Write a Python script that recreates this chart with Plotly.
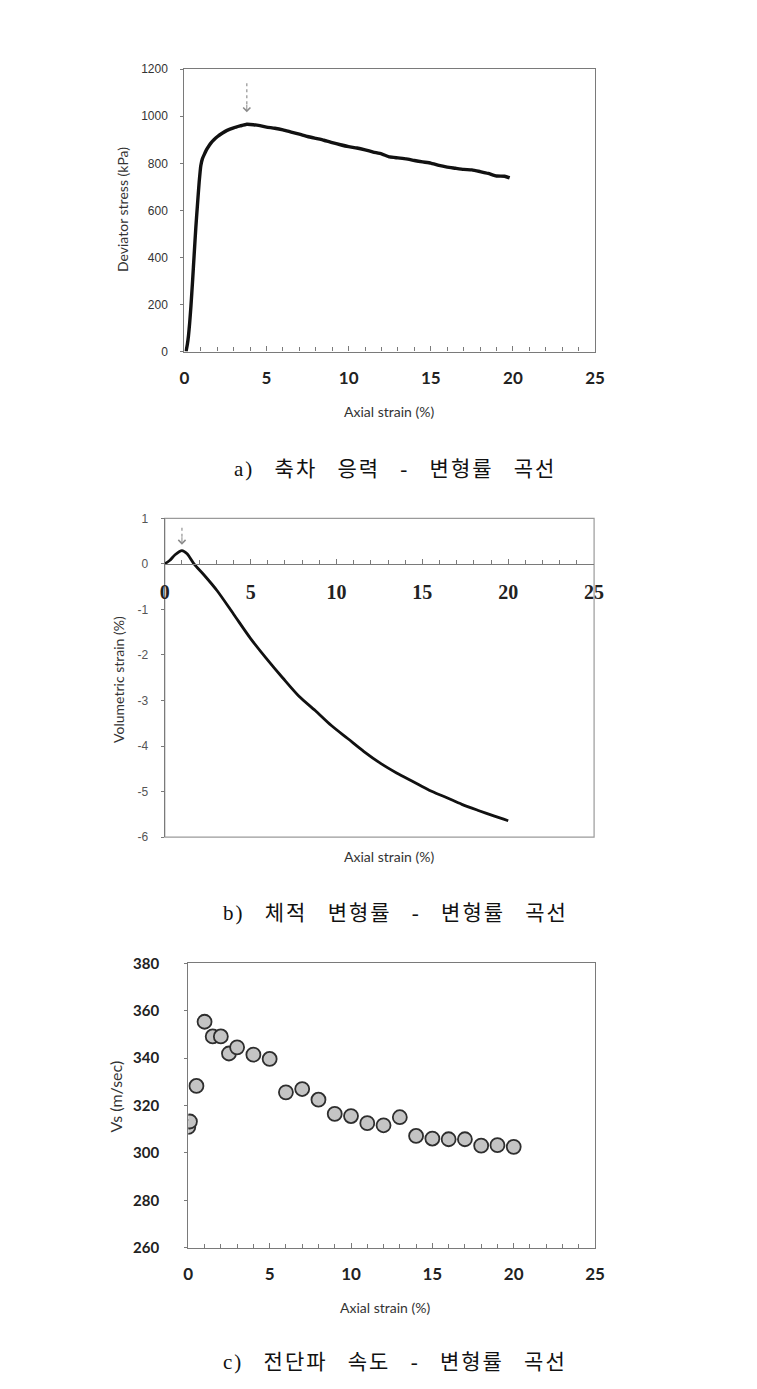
import plotly.graph_objects as go
import numpy as np

W, H = 757, 1389

# ---------------- data ----------------
# a) deviator stress vs axial strain
strain_a = [0.1, 0.18, 0.25, 0.32, 0.4, 0.5, 0.6, 0.7, 0.8, 0.9, 1.0, 1.1, 1.2, 1.35, 1.5, 1.65, 1.8, 2.0,
            2.3, 2.6, 3.0, 3.4, 3.8, 4.2, 4.6, 5.0, 5.5, 6.0, 6.5, 7.0, 7.5, 8.0, 8.5, 9.0, 9.5, 10.0,
            10.5, 11.0, 11.5, 12.0, 12.5, 13.0, 13.5, 14.0, 14.5, 15.0, 15.5, 16.0, 16.5, 17.0, 17.5,
            18.0, 18.5, 19.0, 19.5, 19.8]
stress_a = [0, 30, 67, 120, 193, 300, 417, 530, 627, 720, 790, 820, 836, 858, 875, 889, 900, 913,
            928, 940, 951, 959, 966, 964, 960, 954, 949, 942, 933, 924, 914, 906, 898, 888, 879, 871,
            865, 857, 848, 840, 827, 823, 819, 812, 806, 801, 791, 784, 779, 774, 772,
            765, 757, 746, 745, 738]

# b) volumetric strain vs axial strain
strain_b = [0.0, 0.3, 0.6, 1.0, 1.3, 1.7, 2.3, 3.05, 4.0, 5.0, 5.9, 6.86, 7.8, 8.76, 9.7, 10.67, 11.6,
            12.57, 13.5, 14.5, 15.4, 16.4, 17.3, 18.3, 19.2, 20.0]
vol_b = [0.0, 0.08, 0.2, 0.29, 0.22, 0.0, -0.25, -0.59, -1.10, -1.64, -2.07, -2.50, -2.90, -3.22, -3.55,
         -3.84, -4.12, -4.38, -4.59, -4.79, -4.97, -5.13, -5.28, -5.42, -5.54, -5.64]

# c) shear wave velocity vs axial strain
strain_c = [0, 0.1, 0.5, 1.0, 1.5, 2.0, 2.5, 3.0, 4, 5, 6, 7, 8, 9, 10, 11, 12, 13, 14, 15, 16, 17, 18, 19, 20]
vs_c = [311, 313.3, 328.3, 355.4, 349.2, 349.2, 342, 344.6, 341.5, 339.7, 325.6, 327, 322.5, 316.5, 315.6,
        312.6, 311.7, 315.1, 307.2, 306.1, 305.8, 305.8, 303.1, 303.3, 302.6]

x_ticks = [0, 5, 10, 15, 20, 25]
y_ticks_a = [0, 200, 400, 600, 800, 1000, 1200]
y_ticks_b = [1, 0, -1, -2, -3, -4, -5, -6]
y_ticklabels_b = ["1", "0", "-1", "-2", "-3", "-4", "-5", "-6"]
y_ticks_c = [260, 280, 300, 320, 340, 360, 380]

captions = ["a) 축차 응력 - 변형률 곡선", "b) 체적 변형률 - 변형률 곡선", "c) 전단파 속도 - 변형률 곡선"]
x_title = "Axial strain (%)"
y_titles = ["Deviator stress (kPa)", "Volumetric strain (%)", "Vs (m/sec)"]

# ---------------- layout helpers ----------------
def px_x(p):
    return p / W

def px_y(p):
    return 1 - p / H

dom_a = dict(x=[px_x(183), px_x(602)], y=[px_y(346), px_y(60)])
dom_b = dict(x=[px_x(163), px_x(601)], y=[px_y(838), px_y(515)])
dom_c = dict(x=[px_x(187), px_x(602)], y=[px_y(1254), px_y(966)])

range_b = [-6, 1]
zero_pos_b = dom_b["y"][0] + (dom_b["y"][1] - dom_b["y"][0]) * (0 - range_b[0]) / (range_b[1] - range_b[0])

FRAME = "#9a9a9a"
AXIS = "#7a7a7a"

fig = go.Figure()

fig.add_trace(go.Scatter(x=strain_a, y=stress_a, mode="lines", line=dict(color="#111111", width=3.4, shape="spline", smoothing=0.4),
                         xaxis="x", yaxis="y", showlegend=False))
fig.add_trace(go.Scatter(x=strain_b, y=vol_b, mode="lines", line=dict(color="#111111", width=2.8, shape="spline", smoothing=0.8),
                         xaxis="x2", yaxis="y2", showlegend=False))
fig.add_trace(go.Scatter(x=strain_c, y=vs_c, mode="markers",
                         marker=dict(size=14, color="#c4c4c4", line=dict(color="#2e2e2e", width=1.8)),
                         xaxis="x3", yaxis="y3", showlegend=False))

xcommon = dict(range=[0, 25], tickvals=x_ticks, ticks="inside", ticklen=5, tickcolor=AXIS,
               minor=dict(dtick=1, ticks="inside", ticklen=4, tickcolor=AXIS),
               showgrid=False, zeroline=False, showline=True, linecolor=AXIS, linewidth=1.2)

fig.update_layout(
    width=W, height=H, margin=dict(l=0, r=0, t=0, b=0),
    paper_bgcolor="white", plot_bgcolor="white",
    xaxis=dict(domain=dom_a["x"], anchor="y", mirror=True,
               tickfont=dict(family="Lato", size=17, color="#222", weight="bold"), ticklabelstandoff=11, **xcommon),
    yaxis=dict(domain=dom_a["y"], anchor="x", range=[0, 1200], tickvals=y_ticks_a, ticks="outside", ticklen=3,
               tickcolor=AXIS, showgrid=False, zeroline=False, showline=True, linecolor=AXIS, linewidth=1.2, mirror=True,
               tickfont=dict(family="Liberation Sans Narrow, Liberation Sans", size=12, color="#333"), ticklabelstandoff=10),
    xaxis2=dict(domain=dom_b["x"], anchor="free", position=zero_pos_b, mirror=False,
                tickfont=dict(family="Liberation Serif", size=20, color="#222", weight="bold"), ticklabelstandoff=10, **xcommon),
    yaxis2=dict(domain=dom_b["y"], anchor="x2", range=range_b, tickvals=y_ticks_b, ticktext=y_ticklabels_b,
                ticks="outside", ticklen=3,
                tickcolor=AXIS, showgrid=False, zeroline=False, showline=True, linecolor=AXIS, linewidth=1.2,
                tickfont=dict(family="Liberation Sans", size=12, color="#555"), ticklabelstandoff=10),
    xaxis3=dict(domain=dom_c["x"], anchor="y3", mirror=True,
                tickfont=dict(family="Lato", size=17, color="#222", weight="bold"), ticklabelstandoff=11, **xcommon),
    yaxis3=dict(domain=dom_c["y"], anchor="x3", range=[260, 380], tickvals=y_ticks_c, ticks="outside", ticklen=3,
                tickcolor=AXIS, showgrid=False, zeroline=False, showline=True, linecolor=AXIS, linewidth=1.2, mirror=True,
                tickfont=dict(family="Lato", size=15, color="#222", weight="bold"), ticklabelstandoff=22),
)

# frame for chart b
fig.add_shape(type="rect", xref="x2 domain", yref="y2 domain", x0=0, x1=1, y0=0, y1=1,
              line=dict(color=FRAME, width=1.2), layer="below")

# peak arrows (positions derived from the data peaks)
def add_peak_arrow(xs, ys, xref, yref, gap, top):
    i = int(np.argmax(ys))
    px, py = xs[i], ys[i]
    fig.add_shape(type="line", xref=xref, yref=yref, x0=px, x1=px, ysizemode="pixel", yanchor=py,
                  y0=gap + 8, y1=top, line=dict(color="#9a9a9a", width=1.3, dash="dot"))
    fig.add_annotation(x=px, y=py, xref=xref, yref=yref, text="", showarrow=True, ax=0, ay=-(gap + 9),
                       standoff=gap, arrowhead=4, arrowsize=1.4, arrowwidth=1, arrowcolor="#8a8a8a")

add_peak_arrow(strain_a, stress_a, "x", "y", 12, 42)
add_peak_arrow(strain_b, vol_b, "x2", "y2", 6, 26)

# axis titles
title_font = dict(family="Lato", size=14, color="#333")
for cx, cy in [(392, 407), (392, 858), (388, 1315)]:
    fig.add_annotation(x=px_x(cx), y=px_y(cy), xref="paper", yref="paper", text=x_title, showarrow=False,
                       font=title_font, xanchor="center", yanchor="middle")
for (cx, cy), t, s in zip([(120, 202), (116, 678), (113, 1101)], y_titles, [14, 14, 16]):
    fig.add_annotation(x=px_x(cx), y=px_y(cy), xref="paper", yref="paper", text=t, showarrow=False, textangle=-90,
                       font=dict(family="Lato", size=s, color="#333"), xanchor="center", yanchor="middle")

# captions
for cy, t in zip([465, 915, 1370], captions):
    fig.add_annotation(x=px_x(398), y=px_y(cy), xref="paper", yref="paper",
                       text='<span style="letter-spacing:2px; word-spacing:13px">' + t + '</span>', showarrow=False,
                       font=dict(family="Liberation Serif, Noto Sans CJK KR", size=21, color="#111"),
                       xanchor="center", yanchor="middle")

fig.write_html("out.html")
